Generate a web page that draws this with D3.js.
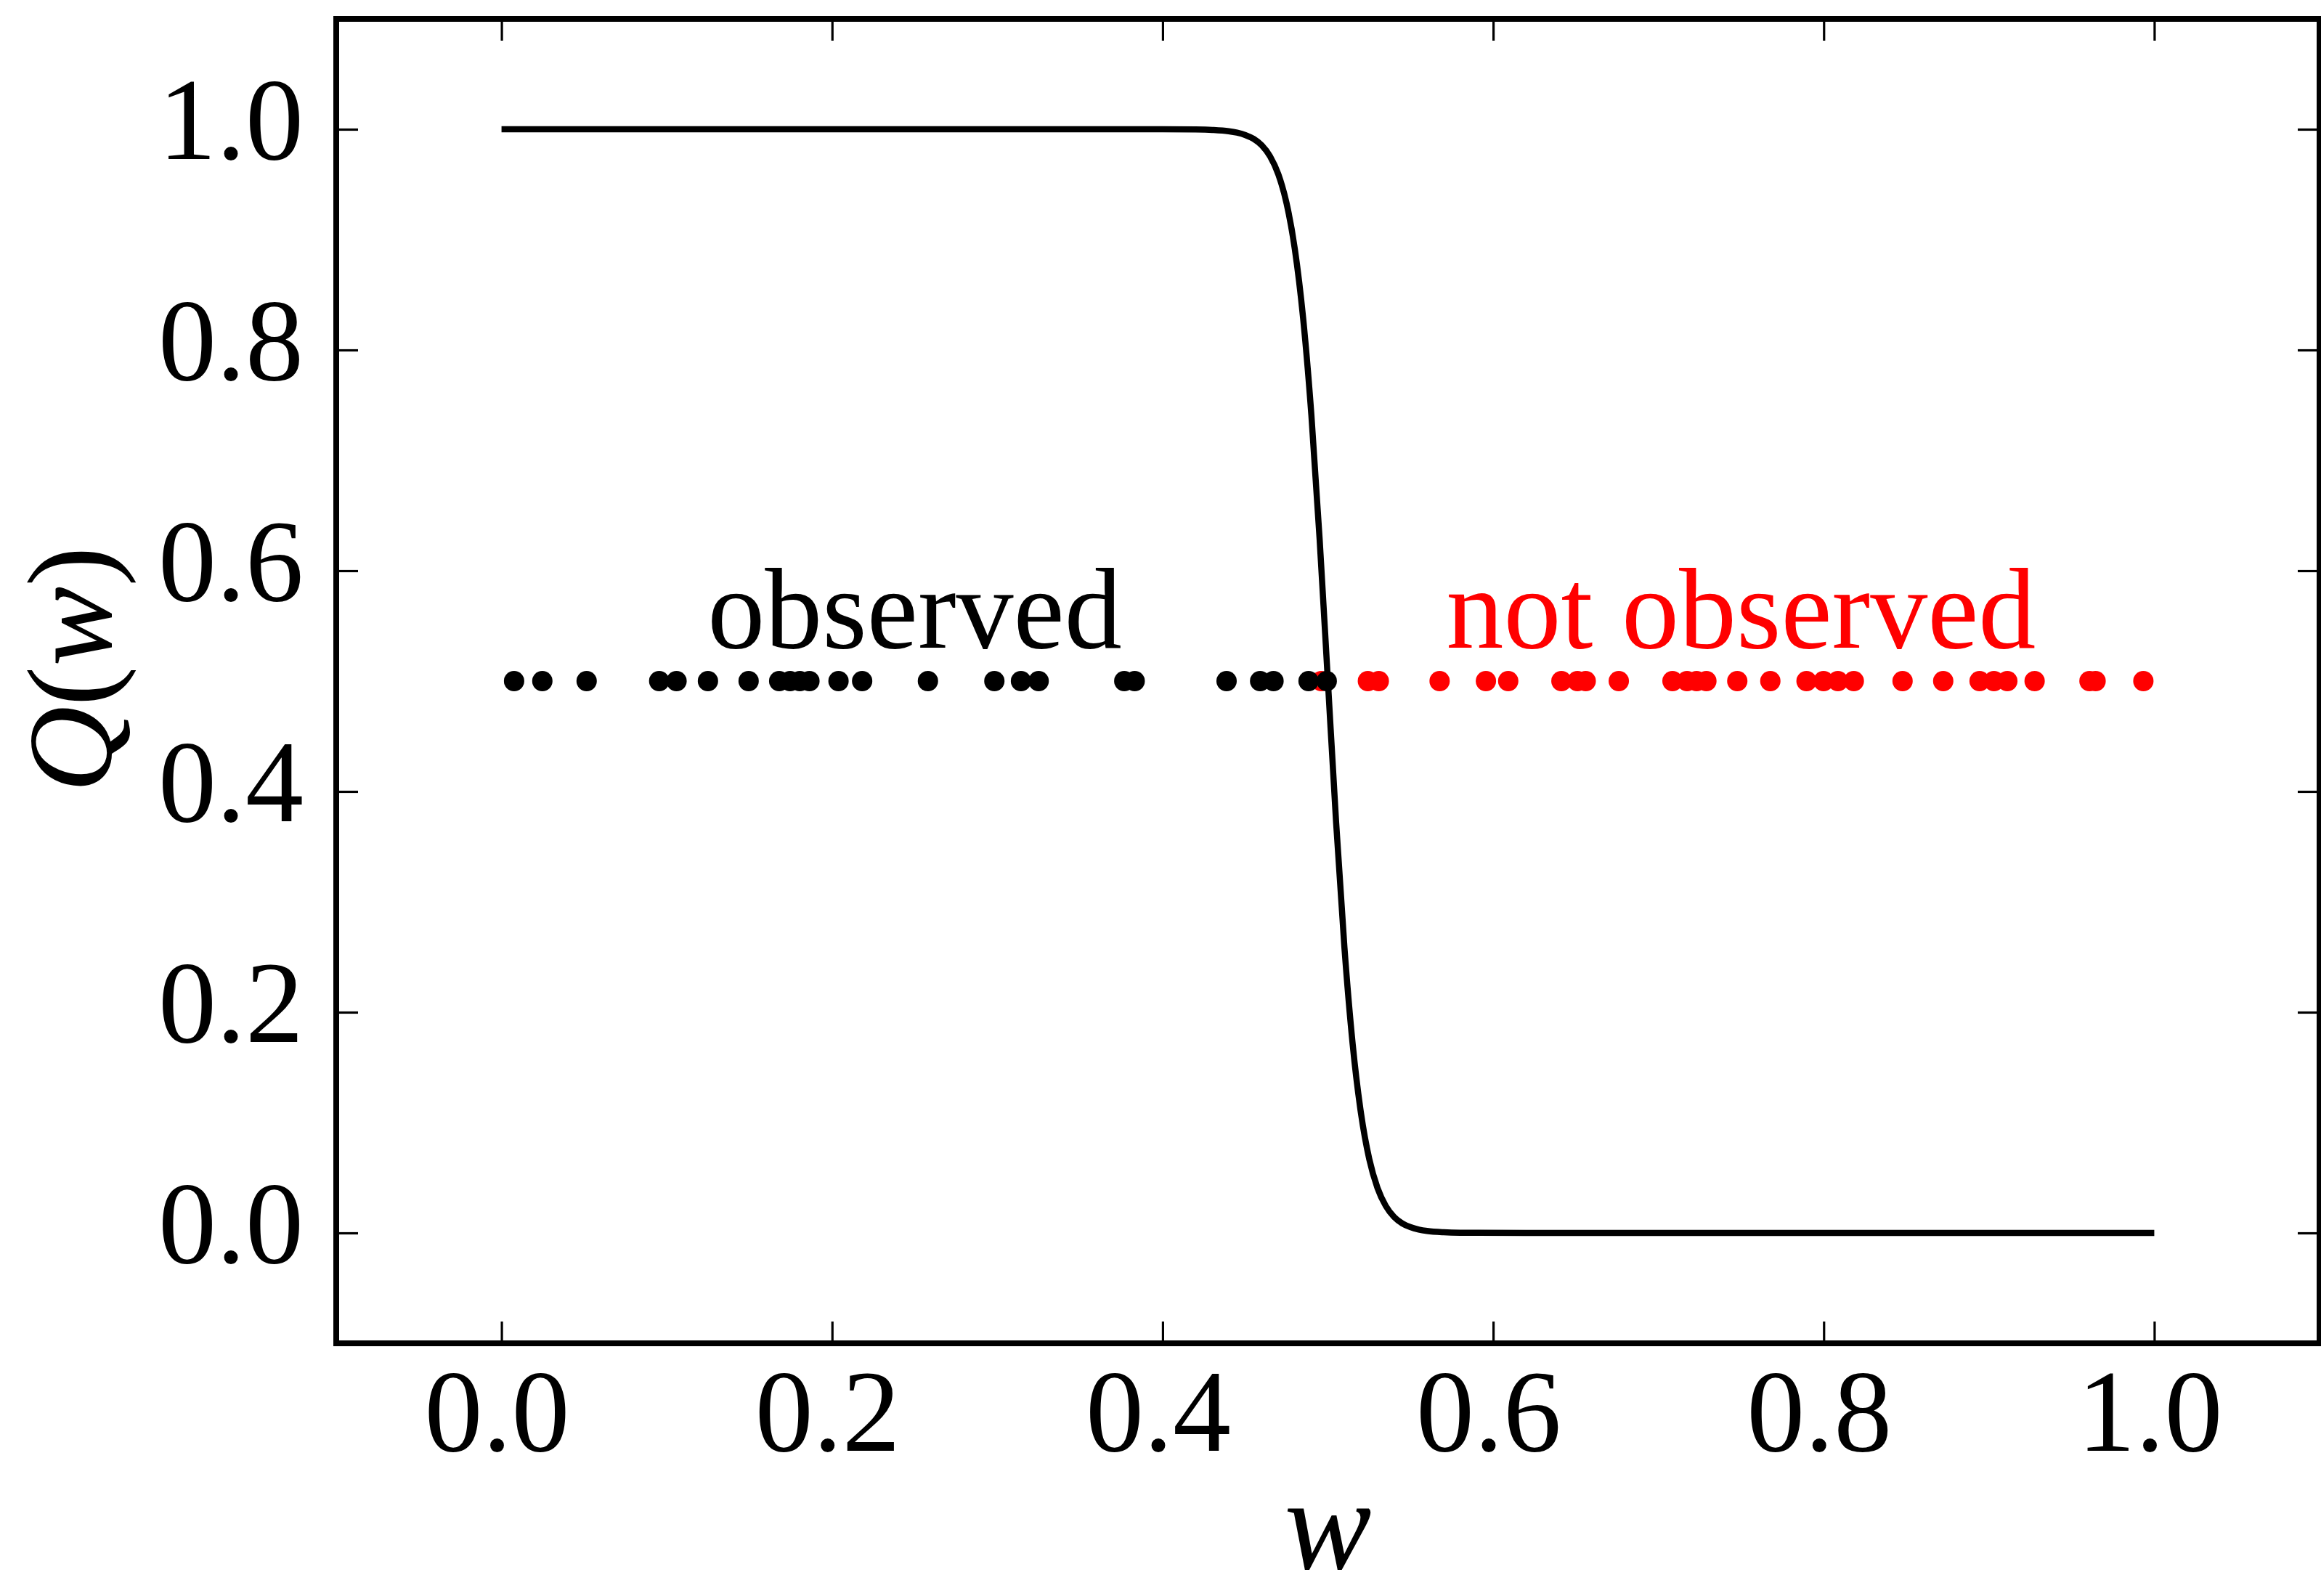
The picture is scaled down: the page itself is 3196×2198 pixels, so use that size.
<!DOCTYPE html>
<html>
<head>
<meta charset="utf-8">
<script src="https://cdn.jsdelivr.net/npm/d3@7"></script>
<style>
  html, body { margin: 0; padding: 0; background: #fff; }
  svg { display: block; }
</style>
</head>
<body>
<svg id="chart" width="3196" height="2198"></svg>
<script>
// Sample positions w in [0, 1]: those that were observed and those that were not
const observedW = [0.0076, 0.0247, 0.0515, 0.0954, 0.1059, 0.1249, 0.1495, 0.168, 0.1746,
  0.1805, 0.1863, 0.2039, 0.2182, 0.258, 0.2982, 0.3143, 0.325, 0.3768, 0.3831, 0.4387,
  0.459, 0.4671, 0.4883, 0.4993];
const notObservedW = [0.496, 0.5242, 0.5308, 0.5676, 0.5956, 0.6091, 0.6413, 0.651, 0.656,
  0.676, 0.7085, 0.7173, 0.7231, 0.729, 0.7477, 0.7677, 0.7896, 0.7999, 0.8086, 0.8182,
  0.8477, 0.8723, 0.8943, 0.903, 0.9111, 0.9276, 0.9608, 0.9645, 0.9934];
const sampleLevel = 0.5;

// Observation probability Q(w), a steep step down around w = 0.5
const curveW = [0.0, 0.40, 0.42, 0.43, 0.44, 0.445, 0.45, 0.455, 0.46, 0.465, 0.47, 0.475,
  0.48, 0.485, 0.49, 0.495, 0.50, 0.505, 0.51, 0.515, 0.52, 0.525, 0.53, 0.535, 0.54,
  0.545, 0.55, 0.555, 0.56, 0.57, 0.58, 0.62, 1.0];
const curveQ = [1.0, 1.0, 0.9998, 0.9994, 0.9982, 0.9969, 0.9948, 0.9913, 0.9854, 0.9755,
  0.9592, 0.9329, 0.8914, 0.8291, 0.7413, 0.6286, 0.5, 0.3714, 0.2587, 0.1709, 0.1086,
  0.0671, 0.0408, 0.0245, 0.0146, 0.0087, 0.0052, 0.0031, 0.0018, 0.0006, 0.0002, 0.0, 0.0];

// Axis ticks
const xTicks = [0.0, 0.2, 0.4, 0.6, 0.8, 1.0];
const yTicks = [0.0, 0.2, 0.4, 0.6, 0.8, 1.0];

// Group captions
const captions = [
  { text: "observed", w: 0.25, q: 0.53, color: "#000000" },
  { text: "not observed", w: 0.75, q: 0.53, color: "#ff0000" }
];

const svg = d3.select("#chart");
const plotLeft = 463, plotRight = 3194, plotTop = 26, plotBottom = 1850;

const x = d3.scaleLinear().domain([-0.1, 1.1]).range([plotLeft, plotRight]);
const y = d3.scaleLinear().domain([-0.1, 1.1]).range([plotBottom, plotTop]);

const serif = "'Liberation Serif', 'DejaVu Serif', serif";
const tickLen = 30;

// Inward-pointing ticks on all four sides
const axes = svg.append("g").attr("class", "axes");
function drawAxis(axisGen, tx, ty) {
  const g = axes.append("g").attr("transform", `translate(${tx},${ty})`).call(axisGen);
  g.select(".domain").remove();
  g.selectAll(".tick line").attr("stroke", "#000").attr("stroke-width", 3.2);
  g.selectAll(".tick text").remove();
  return g;
}
drawAxis(d3.axisBottom(x).tickValues(xTicks).tickSizeInner(-tickLen).tickSizeOuter(0), 0, plotBottom);
drawAxis(d3.axisTop(x).tickValues(xTicks).tickSizeInner(-tickLen).tickSizeOuter(0), 0, plotTop);
drawAxis(d3.axisLeft(y).tickValues(yTicks).tickSizeInner(-tickLen).tickSizeOuter(0), plotLeft, 0);
drawAxis(d3.axisRight(y).tickValues(yTicks).tickSizeInner(-tickLen).tickSizeOuter(0), plotRight, 0);

// Tick labels
const fmt = d3.format(".1f");
svg.append("g").selectAll("text").data(xTicks).join("text")
  .attr("x", d => x(d) - 6)
  .attr("y", 1998)
  .attr("text-anchor", "middle")
  .attr("font-family", serif)
  .attr("font-size", 160)
  .attr("fill", "#000")
  .text(d => fmt(d));

svg.append("g").selectAll("text").data(yTicks).join("text")
  .attr("x", 418)
  .attr("y", d => y(d) + 41)
  .attr("text-anchor", "end")
  .attr("font-family", serif)
  .attr("font-size", 160)
  .attr("fill", "#000")
  .text(d => fmt(d));

// Axis titles
svg.append("text")
  .attr("x", (plotLeft + plotRight) / 2)
  .attr("y", 2160)
  .attr("text-anchor", "middle")
  .attr("font-family", serif)
  .attr("font-style", "italic")
  .attr("font-size", 180)
  .attr("fill", "#000")
  .text("w");

const yTitle = svg.append("text")
  .attr("transform", `translate(152,${y(0.5) - 16}) rotate(-90)`)
  .attr("text-anchor", "middle")
  .attr("font-family", serif)
  .attr("font-size", 165)
  .attr("fill", "#000");
yTitle.append("tspan").attr("font-style", "italic").text("Q");
yTitle.append("tspan").text("(");
yTitle.append("tspan").attr("font-style", "italic").text("w");
yTitle.append("tspan").text(")");

// Q(w) curve
const line = d3.line()
  .x((d, i) => x(curveW[i]))
  .y(d => y(d))
  .curve(d3.curveMonotoneX);

// Sample points: unobserved (red) beneath observed (black)
svg.append("g").selectAll("circle").data(notObservedW).join("circle")
  .attr("cx", d => x(d))
  .attr("cy", y(sampleLevel))
  .attr("r", 14)
  .attr("fill", "#ff0000");

svg.append("g").selectAll("circle").data(observedW).join("circle")
  .attr("cx", d => x(d))
  .attr("cy", y(sampleLevel))
  .attr("r", 14)
  .attr("fill", "#000000");

svg.append("path")
  .datum(curveQ)
  .attr("d", line)
  .attr("fill", "none")
  .attr("stroke", "#000")
  .attr("stroke-width", 8.5)
  .attr("stroke-linejoin", "round");

// Group captions
svg.append("g").selectAll("text").data(captions).join("text")
  .attr("x", d => x(d.w))
  .attr("y", d => y(d.q))
  .attr("text-anchor", "middle")
  .attr("font-family", serif)
  .attr("font-size", 158)
  .attr("fill", d => d.color)
  .text(d => d.text);

// Frame
svg.append("rect")
  .attr("x", plotLeft)
  .attr("y", plotTop)
  .attr("width", plotRight - plotLeft)
  .attr("height", plotBottom - plotTop)
  .attr("fill", "none")
  .attr("stroke", "#000")
  .attr("stroke-width", 8);
</script>
</body>
</html>
